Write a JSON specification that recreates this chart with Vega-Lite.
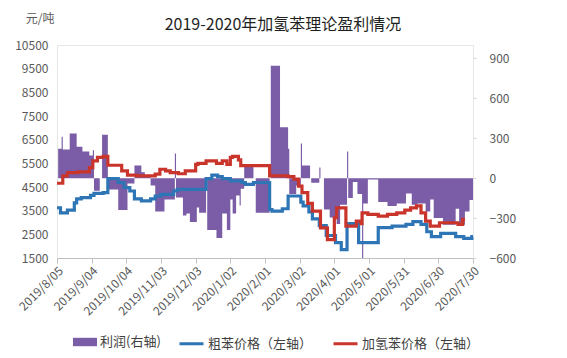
{
  "$schema": "https://vega.github.io/schema/vega-lite/v6.json",
  "width": 416,
  "height": 213,
  "autosize": {"type": "none"},
  "padding": {"left": 57, "top": 45, "right": 94, "bottom": 100},
  "background": "white",
  "config": {
    "font": "Noto Sans CJK SC",
    "view": {"stroke": "#E6E6E6", "strokeWidth": 1},
    "axis": {"labelFont": "Noto Sans CJK SC", "labelFontSize": 12, "labelColor": "#595959", "grid": false, "titleFont": "Noto Sans CJK SC"},
    "legend": {
      "title": null,
      "orient": "none",
      "direction": "horizontal",
      "legendY": 281,
      "padding": 4,
      "labelFontSize": 13,
      "labelColor": "#404040",
      "labelFont": "Noto Sans CJK SC",
      "symbolSize": 576,
      "labelOffset": 3,
      "columnPadding": 14
    }
  },
  "title": {"text": "2019-2020年加氢苯理论盈利情况", "fontSize": 16, "fontWeight": "normal", "color": "#1F1F1F", "anchor": "middle", "frame": "group", "dx": 18, "offset": -21},
  "datasets": {
    "profit": [
      {"date": "2019-08-06", "profit": 220},
      {"date": "2019-08-09", "profit": 310},
      {"date": "2019-08-10", "profit": 215},
      {"date": "2019-08-16", "profit": 335},
      {"date": "2019-08-22", "profit": 235},
      {"date": "2019-08-27", "profit": 200},
      {"date": "2019-09-02", "profit": 170},
      {"date": "2019-09-05", "profit": 210},
      {"date": "2019-09-06", "profit": -95},
      {"date": "2019-09-11", "profit": 0},
      {"date": "2019-09-13", "profit": 325},
      {"date": "2019-09-18", "profit": -85},
      {"date": "2019-09-27", "profit": -240},
      {"date": "2019-10-05", "profit": -40},
      {"date": "2019-10-11", "profit": 95},
      {"date": "2019-10-17", "profit": 45},
      {"date": "2019-10-20", "profit": 20},
      {"date": "2019-10-25", "profit": -55},
      {"date": "2019-10-29", "profit": -250},
      {"date": "2019-11-06", "profit": -160},
      {"date": "2019-11-15", "profit": 185},
      {"date": "2019-11-16", "profit": -145},
      {"date": "2019-11-22", "profit": -280},
      {"date": "2019-11-25", "profit": -265},
      {"date": "2019-11-28", "profit": -330},
      {"date": "2019-12-04", "profit": -220},
      {"date": "2019-12-06", "profit": -260},
      {"date": "2019-12-12", "profit": 0},
      {"date": "2019-12-13", "profit": -390},
      {"date": "2019-12-21", "profit": -450},
      {"date": "2019-12-26", "profit": -265},
      {"date": "2019-12-30", "profit": -390},
      {"date": "2020-01-02", "profit": -160},
      {"date": "2020-01-04", "profit": -265},
      {"date": "2020-01-07", "profit": -130},
      {"date": "2020-01-10", "profit": -205},
      {"date": "2020-01-11", "profit": -80},
      {"date": "2020-01-14", "profit": 83},
      {"date": "2020-01-22", "profit": 0},
      {"date": "2020-01-24", "profit": -260},
      {"date": "2020-02-05", "profit": 0},
      {"date": "2020-02-06", "profit": 845},
      {"date": "2020-02-14", "profit": 382},
      {"date": "2020-02-21", "profit": 220},
      {"date": "2020-02-22", "profit": -120},
      {"date": "2020-02-28", "profit": -55},
      {"date": "2020-03-03", "profit": 260},
      {"date": "2020-03-04", "profit": 95},
      {"date": "2020-03-11", "profit": 0},
      {"date": "2020-03-12", "profit": -35},
      {"date": "2020-03-19", "profit": 80},
      {"date": "2020-03-20", "profit": 0},
      {"date": "2020-03-23", "profit": -235},
      {"date": "2020-03-28", "profit": -295},
      {"date": "2020-04-03", "profit": -345},
      {"date": "2020-04-06", "profit": -200},
      {"date": "2020-04-12", "profit": 200},
      {"date": "2020-04-13", "profit": -150},
      {"date": "2020-04-17", "profit": -30},
      {"date": "2020-04-21", "profit": -120},
      {"date": "2020-04-25", "profit": -600},
      {"date": "2020-04-26", "profit": -190},
      {"date": "2020-04-30", "profit": -10},
      {"date": "2020-05-09", "profit": -180},
      {"date": "2020-05-17", "profit": -210},
      {"date": "2020-05-25", "profit": -190},
      {"date": "2020-06-02", "profit": -115},
      {"date": "2020-06-07", "profit": -200},
      {"date": "2020-06-12", "profit": -190},
      {"date": "2020-06-19", "profit": -250},
      {"date": "2020-06-23", "profit": -160},
      {"date": "2020-06-26", "profit": -300},
      {"date": "2020-07-04", "profit": -350},
      {"date": "2020-07-15", "profit": -230},
      {"date": "2020-07-18", "profit": -350},
      {"date": "2020-07-23", "profit": -250},
      {"date": "2020-07-27", "profit": -165},
      {"date": "2020-07-30", "profit": -165}
    ],
    "crude": [
      {"date": "2019-08-05", "price": 3624},
      {"date": "2019-08-08", "price": 3410},
      {"date": "2019-08-14", "price": 3525},
      {"date": "2019-08-20", "price": 3830},
      {"date": "2019-08-22", "price": 4000},
      {"date": "2019-08-26", "price": 4050},
      {"date": "2019-09-03", "price": 4150},
      {"date": "2019-09-06", "price": 4230},
      {"date": "2019-09-14", "price": 4260},
      {"date": "2019-09-18", "price": 4855},
      {"date": "2019-09-27", "price": 4690},
      {"date": "2019-10-02", "price": 4475},
      {"date": "2019-10-07", "price": 4330},
      {"date": "2019-10-11", "price": 4000},
      {"date": "2019-10-17", "price": 3910},
      {"date": "2019-10-25", "price": 4000},
      {"date": "2019-10-29", "price": 4120},
      {"date": "2019-11-03", "price": 4190},
      {"date": "2019-11-14", "price": 4330},
      {"date": "2019-11-17", "price": 4400},
      {"date": "2019-12-12", "price": 4855},
      {"date": "2019-12-17", "price": 5000},
      {"date": "2019-12-22", "price": 4940},
      {"date": "2019-12-26", "price": 4855},
      {"date": "2020-01-02", "price": 4757},
      {"date": "2020-01-12", "price": 4690},
      {"date": "2020-01-15", "price": 4615},
      {"date": "2020-01-22", "price": 4690},
      {"date": "2020-02-05", "price": 3550},
      {"date": "2020-02-07", "price": 3480},
      {"date": "2020-02-16", "price": 3580},
      {"date": "2020-02-21", "price": 4120},
      {"date": "2020-03-03", "price": 3860},
      {"date": "2020-03-05", "price": 3700},
      {"date": "2020-03-10", "price": 3450},
      {"date": "2020-03-13", "price": 3150},
      {"date": "2020-03-19", "price": 2870},
      {"date": "2020-03-25", "price": 2450},
      {"date": "2020-04-02", "price": 2150},
      {"date": "2020-04-07", "price": 1850},
      {"date": "2020-04-12", "price": 2950},
      {"date": "2020-04-22", "price": 2150},
      {"date": "2020-05-09", "price": 2780},
      {"date": "2020-05-21", "price": 2850},
      {"date": "2020-06-02", "price": 2920},
      {"date": "2020-06-08", "price": 3040},
      {"date": "2020-06-15", "price": 2920},
      {"date": "2020-06-20", "price": 2610},
      {"date": "2020-06-24", "price": 2400},
      {"date": "2020-07-02", "price": 2540},
      {"date": "2020-07-15", "price": 2400},
      {"date": "2020-07-22", "price": 2330},
      {"date": "2020-07-29", "price": 2400},
      {"date": "2020-07-30", "price": 2400}
    ],
    "hydro": [
      {"date": "2019-08-05", "price": 4658},
      {"date": "2019-08-10", "price": 4970},
      {"date": "2019-08-14", "price": 5110},
      {"date": "2019-08-23", "price": 5140},
      {"date": "2019-09-02", "price": 5320},
      {"date": "2019-09-05", "price": 5600},
      {"date": "2019-09-09", "price": 5750},
      {"date": "2019-09-14", "price": 5790},
      {"date": "2019-09-18", "price": 5420},
      {"date": "2019-09-30", "price": 5180},
      {"date": "2019-10-05", "price": 5000},
      {"date": "2019-10-13", "price": 4970},
      {"date": "2019-10-29", "price": 5040},
      {"date": "2019-11-02", "price": 5250},
      {"date": "2019-11-07", "price": 5180},
      {"date": "2019-11-11", "price": 5110},
      {"date": "2019-11-18", "price": 5060},
      {"date": "2019-11-24", "price": 5180},
      {"date": "2019-12-03", "price": 5460},
      {"date": "2019-12-05", "price": 5500},
      {"date": "2019-12-12", "price": 5600},
      {"date": "2019-12-21", "price": 5500},
      {"date": "2019-12-26", "price": 5600},
      {"date": "2019-12-30", "price": 5460},
      {"date": "2020-01-02", "price": 5750},
      {"date": "2020-01-04", "price": 5790},
      {"date": "2020-01-09", "price": 5650},
      {"date": "2020-01-11", "price": 5400},
      {"date": "2020-02-05", "price": 4970},
      {"date": "2020-02-21", "price": 4940},
      {"date": "2020-02-26", "price": 4830},
      {"date": "2020-03-01", "price": 4540},
      {"date": "2020-03-04", "price": 4260},
      {"date": "2020-03-09", "price": 3810},
      {"date": "2020-03-13", "price": 3480},
      {"date": "2020-03-20", "price": 2770},
      {"date": "2020-03-26", "price": 2280},
      {"date": "2020-04-01", "price": 3200},
      {"date": "2020-04-03", "price": 3620},
      {"date": "2020-04-11", "price": 2845},
      {"date": "2020-04-20", "price": 3060},
      {"date": "2020-04-24", "price": 2950},
      {"date": "2020-04-25", "price": 3410},
      {"date": "2020-04-30", "price": 3340},
      {"date": "2020-05-09", "price": 3270},
      {"date": "2020-05-17", "price": 3340},
      {"date": "2020-05-25", "price": 3410},
      {"date": "2020-06-01", "price": 3525},
      {"date": "2020-06-06", "price": 3620},
      {"date": "2020-06-11", "price": 3700},
      {"date": "2020-06-15", "price": 3410},
      {"date": "2020-06-19", "price": 3060},
      {"date": "2020-06-23", "price": 2845},
      {"date": "2020-07-01", "price": 2990},
      {"date": "2020-07-17", "price": 2920},
      {"date": "2020-07-21", "price": 3130},
      {"date": "2020-07-23", "price": 3130}
    ]
  },
  "encoding": {
    "x": {
      "field": "date",
      "type": "temporal",
      "scale": {"type": "utc", "domain": [{"year": 2019, "month": 8, "date": 5, "utc": true}, {"year": 2020, "month": 7, "date": 30, "utc": true}]},
      "axis": {
        "title": null,
        "format": "%Y/%-m/%d",
        "labelAngle": -45,
        "labelPadding": 2,
        "labelOverlap": false,
        "labelFlush": false,
        "tickSize": 5,
        "tickColor": "#BFBFBF",
        "domainColor": "#BFBFBF",
        "values": [
          {"year": 2019, "month": 8, "date": 5, "utc": true},
          {"year": 2019, "month": 9, "date": 4, "utc": true},
          {"year": 2019, "month": 10, "date": 4, "utc": true},
          {"year": 2019, "month": 11, "date": 3, "utc": true},
          {"year": 2019, "month": 12, "date": 3, "utc": true},
          {"year": 2020, "month": 1, "date": 2, "utc": true},
          {"year": 2020, "month": 2, "date": 1, "utc": true},
          {"year": 2020, "month": 3, "date": 2, "utc": true},
          {"year": 2020, "month": 4, "date": 1, "utc": true},
          {"year": 2020, "month": 5, "date": 1, "utc": true},
          {"year": 2020, "month": 5, "date": 31, "utc": true},
          {"year": 2020, "month": 6, "date": 30, "utc": true},
          {"year": 2020, "month": 7, "date": 30, "utc": true}
        ]
      }
    }
  },
  "layer": [
    {
      "data": {"name": "profit"},
      "mark": {"type": "area", "interpolate": "step-after", "opacity": 1},
      "encoding": {
        "y": {
          "field": "profit",
          "type": "quantitative",
          "scale": {"domain": [-600, 1000], "nice": false, "zero": false},
          "axis": {"orient": "right", "title": null, "values": [-600, -300, 0, 300, 600, 900], "domain": false, "tickSize": 3, "tickColor": "#D9D9D9", "labelPadding": 13, "labelAlign": "left"}
        },
        "fill": {
          "datum": "利润(右轴)",
          "type": "nominal",
          "scale": {"domain": ["利润(右轴)"], "range": ["#7B5CA6"]},
          "legend": {"symbolType": "M-1,-0.35H1V0.35H-1Z", "legendX": 12, "symbolStrokeWidth": 0}
        }
      }
    },
    {
      "encoding": {
        "y": {
          "field": "price",
          "type": "quantitative",
          "scale": {"domain": [1500, 10500], "nice": false, "zero": false},
          "axis": {"orient": "left", "title": "元/吨", "titleAngle": 0, "titleAlign": "right", "titleBaseline": "middle", "titleX": -3, "titleY": -27, "titleFontSize": 12, "titleFontWeight": "normal", "titleColor": "#595959", "values": [1500, 2500, 3500, 4500, 5500, 6500, 7500, 8500, 9500, 10500], "format": "d", "domain": false, "ticks": false, "labelPadding": 9}
        },
        "stroke": {
          "field": "series",
          "type": "nominal",
          "scale": {"domain": ["粗苯价格（左轴）", "加氢苯价格（左轴）"], "range": ["#2E75B6", "#C9352B"]},
          "legend": {"symbolType": "stroke", "symbolStrokeWidth": 3, "legendX": 117}
        }
      },
      "layer": [
        {
          "data": {"name": "crude"},
          "mark": {"type": "line", "interpolate": "step-after", "strokeWidth": 3.2},
          "encoding": {"stroke": {"datum": "粗苯价格（左轴）", "type": "nominal"}}
        },
        {
          "data": {"name": "hydro"},
          "mark": {"type": "line", "interpolate": "step-after", "strokeWidth": 3.2},
          "encoding": {"stroke": {"datum": "加氢苯价格（左轴）", "type": "nominal"}}
        }
      ]
    }
  ],
  "resolve": {"scale": {"y": "independent"}}
}
